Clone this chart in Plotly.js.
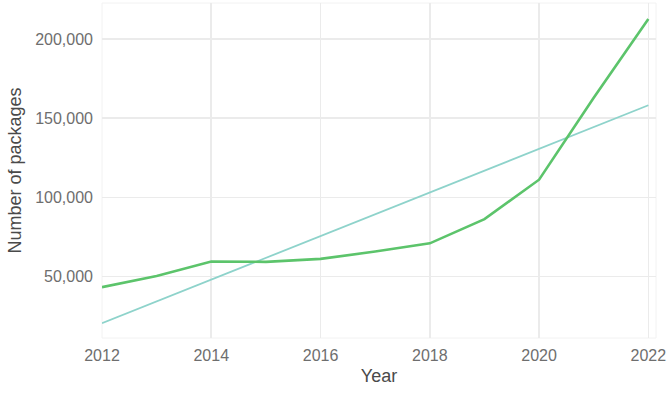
<!DOCTYPE html>
<html>
<head>
<meta charset="utf-8">
<script src="https://cdn.plot.ly/plotly-3.0.1.min.js"></script>
<style>html,body{margin:0;padding:0;background:#fff;}#chart{width:669px;height:398px;}</style>
</head>
<body>
<div id="chart"></div>
<script>
const years = [2012, 2013, 2014, 2015, 2016, 2017, 2018, 2019, 2020, 2021, 2022];
const packages = [43300, 50400, 59500, 59300, 61200, 65800, 71000, 86300, 111200, 163000, 212700];
const trendYears = [2012, 2022];
const trendValues = [20500, 158200];
const xTicks = [2012, 2014, 2016, 2018, 2020, 2022];
const xTickText = ["2012", "2014", "2016", "2018", "2020", "2022"];
const yTicks = [50000, 100000, 150000, 200000];
const yTickText = ["50,000", "100,000", "150,000", "200,000"];

const font = "Liberation Sans, Arial, Helvetica, sans-serif";
const data = [
  {x: trendYears, y: trendValues, mode: "lines", type: "scatter",
   line: {color: "#8ed3cb", width: 1.8}, hoverinfo: "skip"},
  {x: years, y: packages, mode: "lines", type: "scatter",
   line: {color: "#5cc46b", width: 2.6}}
];
const layout = {
  width: 669, height: 398,
  margin: {l: 102, r: 13, t: 3, b: 60},
  paper_bgcolor: "#ffffff", plot_bgcolor: "#ffffff",
  showlegend: false,
  font: {family: font},
  xaxis: {
    range: [2012, 2022.14], tickvals: xTicks, ticktext: xTickText,
    showgrid: true, gridcolor: "#ebebeb", gridwidth: 1.6, zeroline: false,
    showline: false, ticks: "", ticklabelstandoff: 6,
    tickfont: {size: 16, color: "#6e6e6e", family: font},
    title: {text: "Year", font: {size: 18, color: "#4a4a4a", family: font}, standoff: 6}
  },
  yaxis: {
    range: [11200, 222800], tickvals: yTicks, ticktext: yTickText,
    showgrid: true, gridcolor: "#ebebeb", gridwidth: 1.6, zeroline: false,
    showline: false, ticks: "", ticklabelstandoff: 8,
    tickfont: {size: 16, color: "#6e6e6e", family: font},
    title: {text: "Number of packages", font: {size: 18, color: "#4a4a4a", family: font}, standoff: 8}
  },
  shapes: [
    {type: "rect", xref: "paper", yref: "paper", x0: 0, x1: 1, y0: 0, y1: 1,
     line: {color: "#f2f2f2", width: 1}, fillcolor: "rgba(0,0,0,0)", layer: "below"}
  ]
};
Plotly.newPlot("chart", data, layout, {displayModeBar: false, staticPlot: true});
</script>
</body>
</html>
